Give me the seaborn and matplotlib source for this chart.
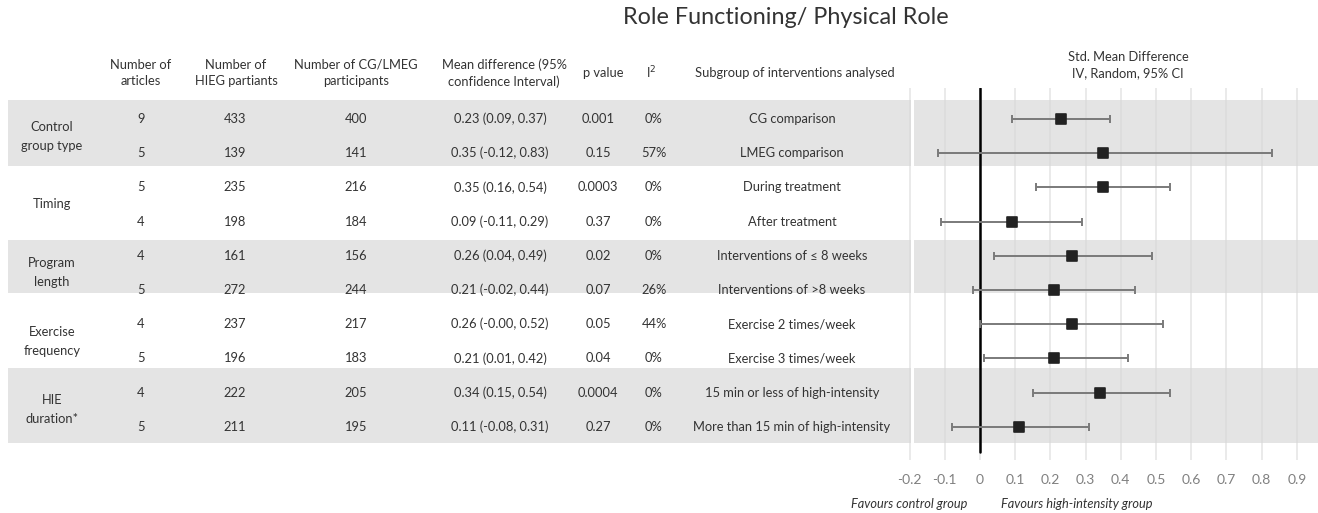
import numpy as np
import pandas as pd
import matplotlib
matplotlib.use("Agg")
import matplotlib.pyplot as plt
import seaborn as sns

groups = ["Control\ngroup type", "Timing", "Program\nlength", "Exercise\nfrequency", "HIE\nduration*"]
group_rows = [[0, 1], [2, 3], [4, 5], [6, 7], [8, 9]]
articles = [9, 5, 5, 4, 4, 5, 4, 5, 4, 5]
hieg_n = [433, 139, 235, 198, 161, 272, 237, 196, 222, 211]
cg_n = [400, 141, 216, 184, 156, 244, 217, 183, 205, 195]
smd = [0.23, 0.35, 0.35, 0.09, 0.26, 0.21, 0.26, 0.21, 0.34, 0.11]
ci_lo = [0.09, -0.12, 0.16, -0.11, 0.04, -0.02, -0.0, 0.01, 0.15, -0.08]
ci_hi = [0.37, 0.83, 0.54, 0.29, 0.49, 0.44, 0.52, 0.42, 0.54, 0.31]
p_vals = ["0.001", "0.15", "0.0003", "0.37", "0.02", "0.07", "0.05", "0.04", "0.0004", "0.27"]
i2 = ["0%", "57%", "0%", "0%", "0%", "26%", "44%", "0%", "0%", "0%"]
subgroups = ["CG comparison", "LMEG comparison", "During treatment", "After treatment",
             "Interventions of \u2264 8 weeks", "Interventions of >8 weeks",
             "Exercise 2 times/week", "Exercise 3 times/week",
             "15 min or less of high-intensity", "More than 15 min of high-intensity"]
xticks = [-0.2, -0.1, 0, 0.1, 0.2, 0.3, 0.4, 0.5, 0.6, 0.7, 0.8, 0.9]

df = pd.DataFrame({"row": np.arange(len(smd)), "smd": smd, "lo": ci_lo, "hi": ci_hi})

sns.set_theme(style="white")
plt.rcParams["font.family"] = ["Lato", "DejaVu Sans"]

W, H = 1318, 513
fig = plt.figure(figsize=(W / 100, H / 100), dpi=100)

# row units <-> pixel y
def py(px):
    return (px - 119) / 34.2

bg = fig.add_axes([0, 0, 1, 1])
bg.set_xlim(0, W)
bg.set_ylim(py(H), py(0))
bg.axis("off")

txt = "#333333"
fs = 9.3

# grey bands behind groups 1, 3 and 5 (pixel extents from the reference)
band_px = [(100, 166), (240, 293), (368, 443)]
for top, bot in band_px:
    bg.fill_between([8, 911], py(bot), py(top), color="#e4e4e4", lw=0, zorder=0)
    bg.fill_between([914, W], py(bot), py(top), color="#e4e4e4", lw=0, zorder=0)

bg.text(786, py(18), "Role Functioning/ Physical Role", ha="center", va="center",
        fontsize=16.8, color=txt)

headers = [(141, "Number of\narticles"), (236, "Number of\nHIEG partiants"),
           (356, "Number of CG/LMEG\nparticipants"), (504, "Mean difference (95%\nconfidence Interval)"),
           (603, "p value"), (651, "I$^2$"), (795, "Subgroup of interventions analysed")]
for x, h in headers:
    bg.text(x, py(73), h, ha="center", va="center", fontsize=fs, color=txt, linespacing=1.4)
bg.text(1128, py(65), "Std. Mean Difference\nIV, Random, 95% CI", ha="center", va="center",
        fontsize=fs, color=txt, linespacing=1.4)

for g, rows in zip(groups, group_rows):
    bg.text(52, np.mean(rows), g, ha="center", va="center", fontsize=fs, color=txt, linespacing=1.7)

cols_x = [141, 235, 356, 500, 598, 654, 792]
for i in range(len(smd)):
    md = f"{smd[i]:.2f} ({ci_lo[i]:.2f}, {ci_hi[i]:.2f})"
    vals = [articles[i], hieg_n[i], cg_n[i], md, p_vals[i], i2[i], subgroups[i]]
    for x, s in zip(cols_x, vals):
        bg.text(x, i, str(s), ha="center", va="center", fontsize=fs, color=txt)

bg.text(967, py(504), "Favours control group", ha="right", va="center",
        fontsize=9.2, style="italic", color=txt)
bg.text(1001, py(504), "Favours high-intensity group", ha="left", va="center",
        fontsize=9.2, style="italic", color=txt)

# forest plot
x0, x1 = 880, W
ax = fig.add_axes([x0 / W, (H - 460) / H, (x1 - x0) / W, 372 / H])
ax.set_facecolor("none")
ax.set_xlim((x0 - 980) / 352, (x1 - 980) / 352)
ax.set_ylim(py(460), py(88))

ax.errorbar(df["smd"], df["row"], xerr=[df["smd"] - df["lo"], df["hi"] - df["smd"]],
            fmt="none", ecolor="#7a7a7a", elinewidth=1.4, capsize=3, capthick=1.4, zorder=3)
sns.scatterplot(data=df, x="smd", y="row", marker="s", s=52, color="#222222",
                edgecolor="#222222", linewidth=1.2, ax=ax, zorder=4, legend=False)
ax.axvline(0, ymin=(460 - 452) / 372, ymax=1, color="black", lw=1.8, zorder=2)

ax.set_xticks(xticks)
ax.set_xticklabels([f"{t:g}" for t in xticks], color="#808080", fontsize=10)
ax.set_yticks([])
ax.grid(axis="x", color="#d6d6d6", lw=1.3, alpha=0.55)
ax.tick_params(axis="x", length=0, pad=10)
ax.set_xlabel("")
ax.set_ylabel("")
for sp in ax.spines.values():
    sp.set_visible(False)

fig.savefig("out.png", dpi=100)
